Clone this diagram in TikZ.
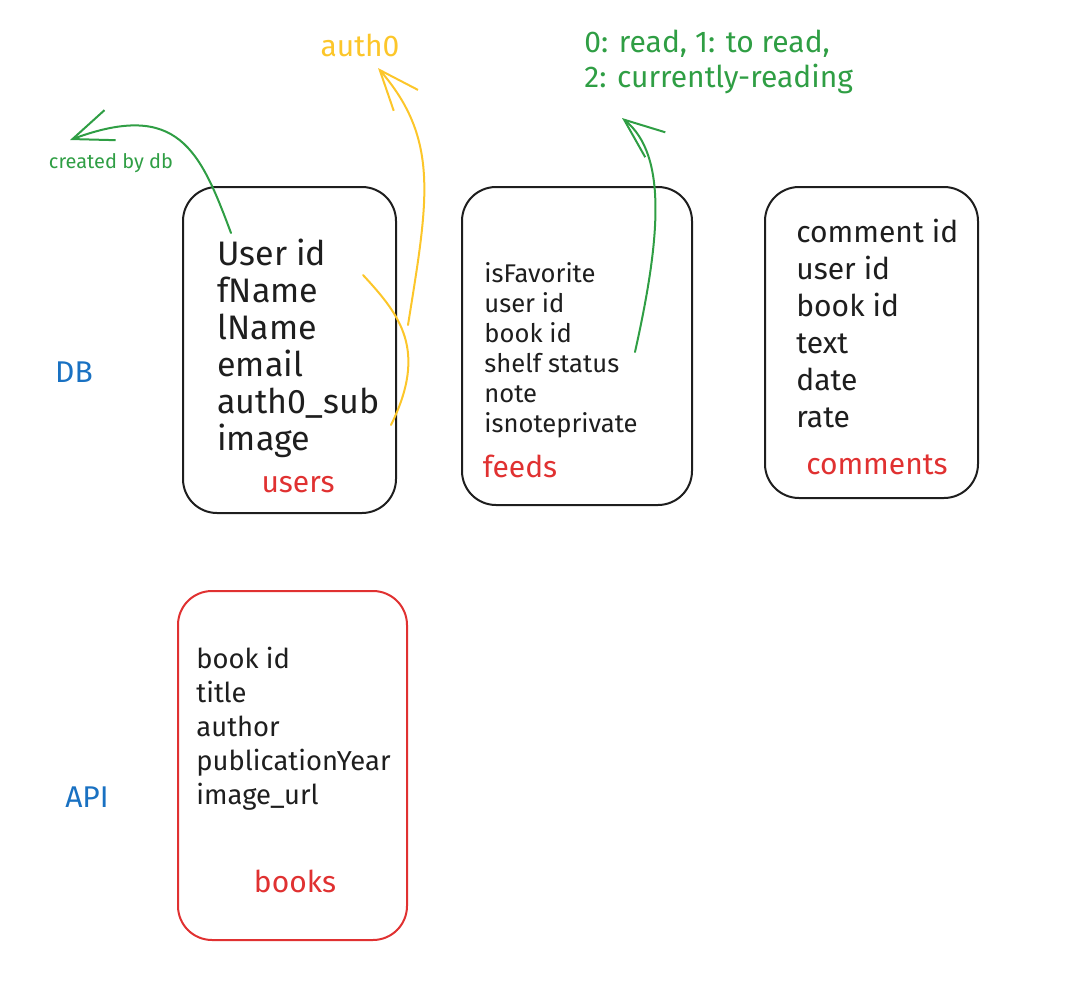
\documentclass[tikz,border=0pt]{standalone}
\usepackage{fontspec}
\setmainfont{Fira Sans}
\usepackage{xcolor}
\usetikzlibrary{positioning, arrows.meta}

\definecolor{inkblack}{HTML}{1E1E1E}
\definecolor{inkred}{HTML}{E03131}
\definecolor{inkgreen}{HTML}{2F9E44}
\definecolor{inkyellow}{HTML}{FCC62A}
\definecolor{inkblue}{HTML}{1971C2}

\tikzset{
  tblbox/.style={draw=inkblack, line width=1pt, rectangle, rounded corners=17pt},
  fields/.style={anchor=north west, inner sep=0pt, align=left, text=inkblack},
  tblname/.style={text=inkred, font={\fontsize{15}{17}\selectfont}},
  layer/.style={text=inkblue, font={\fontsize{15}{17}\selectfont}},
  barb/.style={-{Straight Barb[length=20pt, width=16pt]}, line width=1pt}
}

\begin{document}
\begin{tikzpicture}[x=0.5pt, y=-0.5pt, line cap=round, line join=round]
  \useasboundingbox (0,0) rectangle (1084,986);

  % tables
  \node (users) [tblbox, minimum width=106.5pt, minimum height=163pt] at (289.5,350) {};
  \node (feeds) [tblbox, minimum width=115pt, minimum height=159pt] at (577,346) {};
  \node (comments) [tblbox, minimum width=106.5pt, minimum height=155.5pt] at (871.5,342.5) {};
  \node (books) [tblbox, draw=inkred, minimum width=114.5pt, minimum height=174.5pt] at (292.5,765.5) {};

  % fields
  \node (userfields) [fields, font={\fontsize{17}{18.5}\selectfont}] at (217,239)
    {User id\\fName\\lName\\email\\auth0\_sub\\image};
  \node (feedfields) [fields, font={\fontsize{12.8}{15}\selectfont}] at (484,262)
    {isFavorite\\user id\\book id\\shelf status\\note\\isnoteprivate};
  \node (commentfields) [fields, font={\fontsize{15}{18.5}\selectfont}] at (796,219)
    {comment id\\user id\\book id\\text\\date\\rate};
  \node (bookfields) [fields, font={\fontsize{13.7}{17}\selectfont}] at (196,647)
    {book id\\title\\author\\publicationYear\\image\_url};

  % table names
  \node (userslbl) [tblname] at (298,485) {users};
  \node (feedslbl) [tblname] at (520,466) {feeds};
  \node (commentslbl) [tblname] at (877,465) {comments};
  \node (bookslbl) [tblname] at (295,881) {books};

  % layers
  \node (db) [layer] at (74,372) {DB};
  \node (api) [layer] at (87,797) {API};

  % notes
  \node (auth) [text=inkyellow, font={\fontsize{15}{17}\selectfont}] at (360,45) {auth0};
  \node (status) [text=inkgreen, anchor=west, inner sep=0pt, align=left, font={\fontsize{15}{17.5}\selectfont}] at (584,62)
    {0: read, 1: to read,\\2: currently-reading};
  \node (created) [text=inkgreen, font={\fontsize{10}{12}\selectfont}] at (111,163) {created by db};

  \coordinate (uid) at (231,233);
  \coordinate (createdtip) at (70,140);
  \coordinate (subtop) at (363,275);
  \coordinate (subbot) at (391,425);
  \coordinate (authfoot) at (408,325);
  \coordinate (authtip) at (378,68);
  \coordinate (shelf) at (635,352);
  \coordinate (statustip) at (622,118);

  % arrows
  \draw [barb, inkgreen] (uid) .. controls (200,150) and (178,100) .. (createdtip);
  \draw [inkyellow, line width=1pt] (subtop) .. controls (400,315) and (428,350) .. (subbot);
  \draw [barb, inkyellow] (authfoot) .. controls (428,200) and (440,140) .. (authtip);
  \draw [barb, inkgreen] (shelf) .. controls (660,240) and (668,155) .. (statustip);
\end{tikzpicture}
\end{document}
